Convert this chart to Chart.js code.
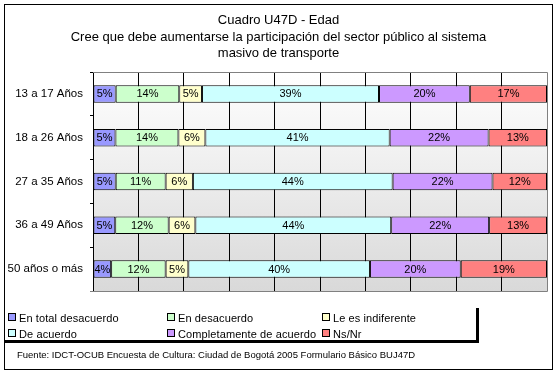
<!DOCTYPE html>
<html>
<head>
<meta charset="utf-8">
<script src="https://cdn.jsdelivr.net/npm/chart.js@4.4.1/dist/chart.umd.min.js"></script>
<style>
  html, body { margin:0; padding:0; background:#fff; }
  #wrap { position:relative; width:559px; height:374px; overflow:hidden; font-family:"Liberation Sans", Arial, sans-serif; }
  #frame { position:absolute; left:4px; top:4px; width:547px; height:364px; border:1px solid #000; box-sizing:content-box; }
  canvas { position:absolute; left:0; top:0; }
  #title { position:absolute; left:5px; width:547px; top:12px; text-align:center; font-size:13px; line-height:16.5px; color:#000; }
  #legend { position:absolute; left:5px; top:308px; width:471px; height:32px; border-right:3px solid #000; border-bottom:3px solid #000; }
  .li { position:absolute; font-size:11px; line-height:14px; color:#000; white-space:nowrap; letter-spacing:0.1px; }
  .mk { display:inline-block; width:6px; height:6px; border:1px solid #000; margin-right:3px; vertical-align:1px; }
  #source { position:absolute; left:17px; top:349px; font-size:9.5px; color:#000; white-space:nowrap; }
</style>
</head>
<body>
<div id="wrap">
  <div id="frame"></div>
  <canvas id="c" width="559" height="374"></canvas>
  <div id="title">Cuadro U47D - Edad<br>Cree que debe aumentarse la participación del sector público al sistema<br>masivo de transporte</div>
  <div id="legend"></div>
  <div id="source">Fuente: IDCT-OCUB Encuesta de Cultura: Ciudad de Bogotá 2005 Formulario Básico BUJ47D</div>
</div>
<script>
const categories = ['13 a 17 Años', '18 a 26 Años', '27 a 35 Años', '36 a 49 Años', '50 años o más'];
const seriesNames = ['En total desacuerdo', 'En desacuerdo', 'Le es indiferente', 'De acuerdo', 'Completamente de acuerdo', 'Ns/Nr'];
const totalDesacuerdo = [5, 5, 5, 5, 4];
const enDesacuerdo   = [14, 14, 11, 12, 12];
const indiferente    = [5, 6, 6, 6, 5];
const deAcuerdo      = [39, 41, 44, 44, 40];
const completamente  = [20, 22, 22, 22, 20];
const nsNr           = [17, 13, 12, 13, 19];
const xTicks = [0, 10, 20, 30, 40, 50, 60, 70, 80, 90, 100];

const colors = ['#9999FF', '#CCFFCC', '#FFFFCC', '#CCFFFF', '#CC99FF', '#FF8080'];
const series = [totalDesacuerdo, enDesacuerdo, indiferente, deAcuerdo, completamente, nsNr];

// 100% stacked: normalise each row by its total
const rowTotals = categories.map((_, i) => series.reduce((s, arr) => s + arr[i], 0));
const datasets = series.map((arr, k) => ({
  label: seriesNames[k],
  data: arr.map((v, i) => v / rowTotals[i] * 100),
  raw: arr,
  backgroundColor: colors[k],
  borderColor: '#000',
  borderWidth: 1,
  borderSkipped: false,
  categoryPercentage: 1,
  barPercentage: 0.4
}));

const bgPlugin = {
  id: 'bg',
  beforeDraw(chart) {
    const { ctx, chartArea: a } = chart;
    const g = ctx.createLinearGradient(0, a.top, 0, a.bottom);
    g.addColorStop(0, '#ffffff');
    g.addColorStop(1, '#d9d9d9');
    ctx.save();
    ctx.fillStyle = g;
    ctx.fillRect(a.left, a.top, a.right - a.left, a.bottom - a.top);
    ctx.restore();
  },
  afterDraw(chart) {
    const { ctx, chartArea: a } = chart;
    ctx.save();
    ctx.strokeStyle = '#808080';
    ctx.lineWidth = 1;
    ctx.beginPath();
    ctx.moveTo(a.left, a.top + 0.5); ctx.lineTo(a.right + 0.5, a.top + 0.5);
    ctx.lineTo(a.right + 0.5, a.bottom + 0.5); ctx.lineTo(a.left - 3, a.bottom + 0.5);
    ctx.stroke();
    ctx.restore();
  }
};

const labelPlugin = {
  id: 'barLabels',
  afterDatasetsDraw(chart) {
    const { ctx } = chart;
    ctx.save();
    ctx.font = '11px "Liberation Sans", Arial, sans-serif';
    ctx.fillStyle = '#000';
    ctx.textAlign = 'center';
    ctx.textBaseline = 'middle';
    chart.data.datasets.forEach((ds, k) => {
      chart.getDatasetMeta(k).data.forEach((bar, i) => {
        const cx = (bar.x + bar.base) / 2;
        ctx.fillText(ds.raw[i] + '%', cx, bar.y + 0.5);
      });
    });
    ctx.restore();
  }
};

new Chart(document.getElementById('c'), {
  type: 'bar',
  data: { labels: categories, datasets },
  options: {
    indexAxis: 'y',
    responsive: false,
    animation: false,
    layout: { padding: { top: 72, right: 12, bottom: 83, left: 0 } },
    plugins: { legend: { display: false }, title: { display: false }, tooltip: { enabled: false } },
    scales: {
      x: {
        stacked: true, min: 0, max: 100,
        afterBuildTicks(scale) { scale.ticks = xTicks.map(v => ({ value: v })); },
        ticks: { display: false },
        grid: { color: ctx => (ctx.tick && ctx.tick.value === 100) ? 'rgba(0,0,0,0)' : '#000', lineWidth: 1, drawTicks: false },
        border: { display: false },
        afterFit(scale) { scale.height = 0; }
      },
      y: {
        stacked: true,
        ticks: { color: '#000', font: { family: '"Liberation Sans", Arial, sans-serif', size: 11.5 }, padding: 7 },
        grid: { offset: true, drawOnChartArea: false, tickLength: 3, color: '#000' },
        border: { display: true, color: '#000', width: 1 },
        afterFit(scale) { scale.width = 93; }
      }
    }
  },
  plugins: [bgPlugin, labelPlugin]
});

// legend (HTML)
const legendEl = document.getElementById('legend');
const legPos = [[3, 3], [162, 3], [317, 3], [3, 19], [162, 19], [317, 19]];
seriesNames.forEach((name, k) => {
  const d = document.createElement('div');
  d.className = 'li';
  d.style.left = legPos[k][0] + 'px';
  d.style.top = legPos[k][1] + 'px';
  d.innerHTML = '<span class="mk" style="background:' + colors[k] + '"></span>' + name;
  legendEl.appendChild(d);
});
</script>
</body>
</html>
